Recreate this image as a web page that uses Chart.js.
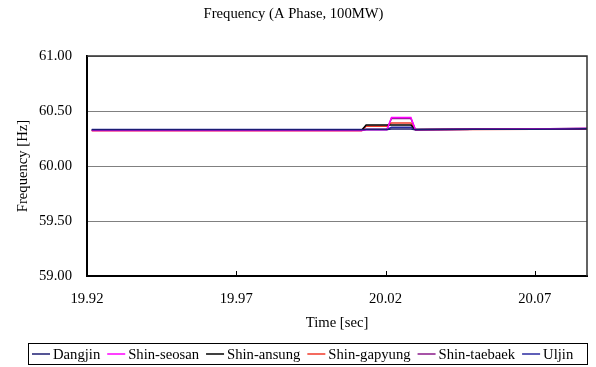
<!DOCTYPE html>
<html>
<head>
<meta charset="utf-8">
<script src="https://cdn.jsdelivr.net/npm/chart.js@4.4.1/dist/chart.umd.min.js"></script>
<style>
  html, body { margin: 0; padding: 0; background: #fff; }
  #wrap { width: 596px; height: 367px; }
</style>
</head>
<body>
<div id="wrap"><canvas id="freq" width="596" height="367"></canvas></div>
<script>
// time samples (sec) shared by all six buses
const times = [19.9216, 19.95, 19.98, 20.0, 20.012, 20.0135, 20.0205, 20.022, 20.0285, 20.030, 20.05, 20.07, 20.08, 20.0875];

const dangjin     = [60.330, 60.330, 60.329, 60.329, 60.329, 60.331, 60.331, 60.336, 60.336, 60.330, 60.333, 60.335, 60.337, 60.338];
const shinSeosan  = [60.322, 60.322, 60.323, 60.323, 60.323, 60.330, 60.330, 60.442, 60.442, 60.330, 60.333, 60.336, 60.338, 60.340];
const shinAnsung  = [60.325, 60.325, 60.325, 60.326, 60.326, 60.372, 60.372, 60.372, 60.372, 60.332, 60.333, 60.335, 60.337, 60.338];
const shinGapyung = [60.320, 60.320, 60.321, 60.321, 60.321, 60.362, 60.362, 60.392, 60.392, 60.330, 60.332, 60.334, 60.336, 60.337];
const shinTaebaek = [60.324, 60.324, 60.324, 60.325, 60.325, 60.335, 60.335, 60.432, 60.432, 60.331, 60.334, 60.337, 60.341, 60.343];
const uljin       = [60.331, 60.331, 60.331, 60.331, 60.332, 60.332, 60.332, 60.352, 60.352, 60.331, 60.333, 60.335, 60.337, 60.338];

const seriesNames  = ['Dangjin', 'Shin-seosan', 'Shin-ansung', 'Shin-gapyung', 'Shin-taebaek', 'Uljin'];
const seriesValues = [dangjin, shinSeosan, shinAnsung, shinGapyung, shinTaebaek, uljin];
const seriesColors = ['#1c1c72', '#ff00ff', '#000000', '#f03a2a', '#8a1a8a', '#2a2aa0'];

const xTicks = [19.92, 19.97, 20.02, 20.07];
const xTickLabels = ['19.92', '19.97', '20.02', '20.07'];

const serif = '"Liberation Serif", "Times New Roman", serif';
const fontPx = 14.67;

// border around plot area, inner x ticks, boxed legend underneath
const frame = {
  id: 'frame',
  afterDraw(chart) {
    const {ctx, chartArea: a, scales: {x}} = chart;
    ctx.save();
    ctx.strokeStyle = '#303030';
    ctx.lineWidth = 1.5;
    ctx.beginPath();
    ctx.moveTo(a.left, a.top);
    ctx.lineTo(a.right, a.top);
    ctx.lineTo(a.right, a.bottom);
    ctx.stroke();

    ctx.strokeStyle = '#000';
    ctx.lineWidth = 1;
    xTicks.slice(1).forEach(v => {
      const px = Math.round(x.getPixelForValue(v)) + 0.5;
      ctx.beginPath();
      ctx.moveTo(px, a.bottom);
      ctx.lineTo(px, a.bottom - 5);
      ctx.stroke();
    });

    // legend
    ctx.strokeStyle = '#000';
    ctx.lineWidth = 1;
    ctx.strokeRect(28.5, 343.5, 559, 21);
    ctx.font = fontPx + 'px ' + serif;
    ctx.textBaseline = 'middle';
    let lx = 32;
    const ly = 354;
    chart.data.datasets.forEach(ds => {
      ctx.strokeStyle = ds.borderColor;
      ctx.lineWidth = 1.5;
      ctx.beginPath();
      ctx.moveTo(lx, ly);
      ctx.lineTo(lx + 18, ly);
      ctx.stroke();
      ctx.fillStyle = '#000';
      ctx.fillText(ds.label, lx + 21, ly + 1);
      lx += 21 + ctx.measureText(ds.label).width + 7;
    });
    ctx.restore();
  }
};

new Chart(document.getElementById('freq'), {
  type: 'line',
  data: {
    datasets: seriesNames.map((name, i) => ({
      label: name,
      data: times.map((t, j) => ({x: t, y: seriesValues[i][j]})),
      borderColor: seriesColors[i],
      backgroundColor: seriesColors[i],
      borderWidth: 1.5,
      pointRadius: 0,
      tension: 0,
      fill: false
    }))
  },
  options: {
    responsive: false,
    animation: false,
    devicePixelRatio: 1,
    layout: { padding: { left: 0, right: 9, top: 0, bottom: 31 } },
    plugins: {
      legend: { display: false },
      tooltip: { enabled: false },
      title: {
        display: true,
        text: 'Frequency (A Phase, 100MW)',
        color: '#000',
        font: { family: serif, size: fontPx, weight: 'normal' },
        padding: { top: 5, bottom: 33.4 }
      }
    },
    scales: {
      x: {
        type: 'linear',
        min: 19.92,
        max: 20.0875,
        afterBuildTicks: s => { s.ticks = xTicks.map(v => ({value: v})); },
        afterFit: s => { s.height = 60; },
        grid: { display: false },
        border: { display: true, color: '#000', width: 2 },
        ticks: {
          color: '#000',
          padding: 6,
          maxRotation: 0,
          font: { family: serif, size: fontPx },
          callback: v => xTickLabels[xTicks.indexOf(v)]
        },
        title: {
          display: true,
          text: 'Time [sec]',
          color: '#000',
          font: { family: serif, size: fontPx },
          padding: { top: 0, bottom: 4.2 }
        }
      },
      y: {
        min: 59,
        max: 61,
        afterFit: s => { s.width = 87; },
        grid: { color: '#808080', lineWidth: 1, drawTicks: false },
        border: { display: true, color: '#000', width: 2 },
        ticks: {
          stepSize: 0.5,
          color: '#000',
          padding: 15,
          font: { family: serif, size: fontPx },
          callback: v => v.toFixed(2)
        },
        title: {
          display: true,
          text: 'Frequency [Hz]',
          color: '#000',
          font: { family: serif, size: fontPx },
          padding: { top: 14, bottom: 0 }
        }
      }
    }
  },
  plugins: [frame]
});
</script>
</body>
</html>
